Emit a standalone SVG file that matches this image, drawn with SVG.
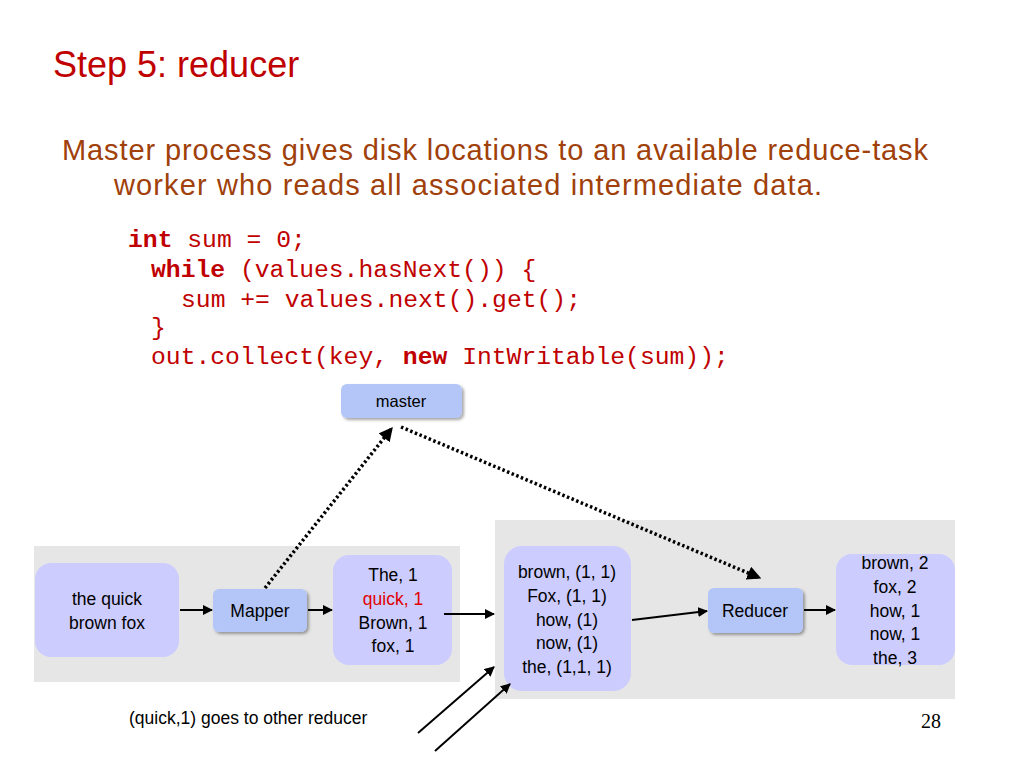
<svg xmlns="http://www.w3.org/2000/svg" width="1024" height="768" viewBox="0 0 1024 768">
<defs>
<marker id="ah" viewBox="0 0 10 10" refX="9" refY="5" markerWidth="5" markerHeight="5" orient="auto" markerUnits="strokeWidth">
<path d="M0,0 L10,5 L0,10 z" fill="#000"/>
</marker>
<marker id="ahd" viewBox="0 0 10 10" refX="9" refY="5" markerWidth="4" markerHeight="4" orient="auto" markerUnits="strokeWidth">
<path d="M0,0 L10,5 L0,10 z" fill="#000"/>
</marker>
<filter id="sh" x="-20%" y="-20%" width="150%" height="160%">
<feDropShadow dx="2" dy="2" stdDeviation="1.5" flood-color="#000" flood-opacity="0.35"/>
</filter>
</defs>
<style>
.title{font-family:"Liberation Sans",Arial,sans-serif;font-size:36px;fill:#C00000}
.body{font-family:"Liberation Sans",Arial,sans-serif;font-size:29px;fill:#A0400A}
.code{font-family:"Liberation Mono","DejaVu Sans Mono",monospace;font-size:24.7px;fill:#C00000}
.kw{font-weight:bold}
.panel{fill:#E6E6E6}
.data{fill:#CCCCFF}
.proc{fill:#B4C6F7;filter:url(#sh)}
.t{font-family:"Liberation Sans",Arial,sans-serif;font-size:17.5px;fill:#000;text-anchor:middle}
.red{fill:#E00000}
.note{font-family:"Liberation Sans",Arial,sans-serif;font-size:17.5px;fill:#000}
.pg{font-family:"Liberation Serif","Times New Roman",serif;font-size:20px;fill:#000}
.ln{stroke:#000;stroke-width:2;fill:none;marker-end:url(#ah)}
.dot{stroke:#000;stroke-width:3.5;fill:none;stroke-dasharray:2.5 2.5;marker-end:url(#ahd)}
</style>
<rect width="1024" height="768" fill="#fff"/>
<text class="title" x="53" y="77">Step 5: reducer</text>
<text class="body" x="62" y="160" textLength="866">Master process gives disk locations to an available reduce-task</text>
<text class="body" x="114" y="195" textLength="708">worker who reads all associated intermediate data.</text>
<g id="code">
<text class="code" x="128" y="247"><tspan class="kw">int</tspan> sum = 0;</text>
<text class="code" x="151" y="277"><tspan class="kw">while</tspan> (values.hasNext()) {</text>
<text class="code" x="181" y="307">sum += values.next().get();</text>
<text class="code" x="151" y="335">}</text>
<text class="code" x="151" y="364">out.collect(key, <tspan class="kw">new</tspan> IntWritable(sum));</text>
</g>
<rect class="panel" x="34" y="546" width="426" height="136"/>
<rect class="panel" x="495" y="520" width="460" height="179"/>
<g id="input">
<rect class="data" x="35" y="563" width="144" height="94" rx="16"/>
<text class="t" x="107" y="605">the quick</text>
<text class="t" x="107" y="629">brown fox</text>
</g>
<g id="mapper">
<rect class="proc" x="213" y="589" width="94" height="43" rx="6"/>
<text class="t" x="260" y="617">Mapper</text>
</g>
<g id="mapout">
<rect class="data" x="333" y="555" width="119" height="110" rx="16"/>
<text class="t" x="393" y="581">The, 1</text>
<text class="t red" x="393" y="605">quick, 1</text>
<text class="t" x="393" y="629">Brown, 1</text>
<text class="t" x="393" y="652">fox, 1</text>
</g>
<g id="master">
<rect class="proc" x="341" y="384" width="121" height="34" rx="6"/>
<text class="t" x="401" y="407" style="font-size:16.5px">master</text>
</g>
<g id="grouped">
<rect class="data" x="504" y="546" width="127" height="145" rx="18"/>
<text class="t" x="567" y="578">brown, (1, 1)</text>
<text class="t" x="567" y="602">Fox, (1, 1)</text>
<text class="t" x="567" y="626">how, (1)</text>
<text class="t" x="567" y="649">now, (1)</text>
<text class="t" x="567" y="673">the, (1,1, 1)</text>
</g>
<g id="reducer">
<rect class="proc" x="708" y="588" width="95" height="45" rx="6"/>
<text class="t" x="755" y="617">Reducer</text>
</g>
<g id="result">
<rect class="data" x="836" y="554" width="119" height="111" rx="16"/>
<text class="t" x="895" y="569">brown, 2</text>
<text class="t" x="895" y="593">fox, 2</text>
<text class="t" x="895" y="617">how, 1</text>
<text class="t" x="895" y="640">now, 1</text>
<text class="t" x="895" y="664">the, 3</text>
</g>
<g id="connectors">
<line class="ln" x1="180" y1="610" x2="212" y2="610"/>
<line class="ln" x1="308" y1="610" x2="332" y2="610"/>
<line class="ln" x1="444" y1="614" x2="494" y2="614"/>
<line class="ln" x1="632" y1="620" x2="707" y2="611"/>
<line class="ln" x1="804" y1="610" x2="835" y2="610"/>
<line class="ln" x1="418" y1="733" x2="494" y2="667"/>
<line class="ln" x1="435" y1="751" x2="510" y2="684"/>
<line class="dot" x1="265" y1="588" x2="392" y2="428"/>
<line class="dot" x1="401" y1="427" x2="760" y2="578"/>
</g>
<text class="note" x="129" y="724">(quick,1) goes to other reducer</text>
<text class="pg" x="941" y="728" text-anchor="end">28</text>
</svg>
